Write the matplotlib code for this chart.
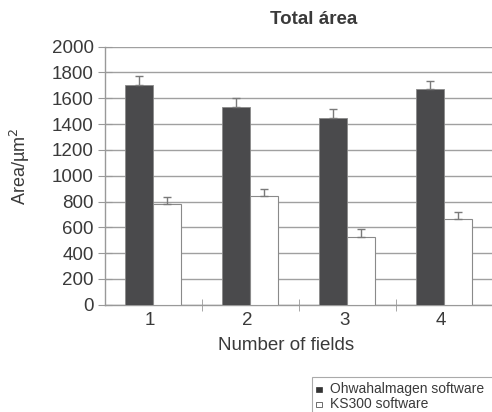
import matplotlib
matplotlib.use("Agg")
import matplotlib.pyplot as plt
import numpy as np
from matplotlib.patches import Rectangle

plt.rcParams['font.family'] = ['Liberation Sans', 'DejaVu Sans']

categories = ["1", "2", "3", "4"]
ohwa_values = [1703, 1535, 1444, 1669]
ohwa_err = [72, 70, 73, 67]
ks_values = [780, 845, 522, 667]
ks_err = [57, 52, 62, 54]
series_names = ["Ohwahalmagen software", "KS300 software"]
yticks = [0, 200, 400, 600, 800, 1000, 1200, 1400, 1600, 1800, 2000]

fig = plt.figure(figsize=(4.92, 4.12), dpi=100)
ax = fig.add_axes([104.7/492, 1-304.7/412, (492.7-104.7)/492, (304.7-46.7)/412])

x = np.arange(len(categories))
w = 0.29
txt = '#3a3a3a'
ax.bar(x - w/2, ohwa_values, w, color='#4a4a4c', edgecolor='#8a8a8a', linewidth=0.6, zorder=3)
ax.bar(x + w/2, ks_values, w, color='white', edgecolor='#8a8a8a', linewidth=0.8, zorder=3)
ax.errorbar(x - w/2, ohwa_values, yerr=[np.zeros(4), ohwa_err], fmt='none',
            ecolor='#7a7a7a', elinewidth=1, capsize=3, capthick=1, zorder=4)
ax.errorbar(x + w/2, ks_values, yerr=[np.zeros(4), ks_err], fmt='none',
            ecolor='#7a7a7a', elinewidth=1, capsize=3, capthick=1, zorder=4)

ax.set_xlim(-0.5, 3.5)
ax.set_ylim(0, 2000)
ax.set_yticks(yticks)
ax.set_yticklabels([str(v) for v in yticks], fontsize=13.5, color=txt)
ax.set_xticks(x - 0.03)
ax.set_xticklabels(categories, fontsize=13.5, color=txt)
ax.set_xticks([0.5, 1.5, 2.5, 3.5], minor=True)
ax.tick_params(axis='x', which='major', length=0, pad=5)
ax.tick_params(axis='x', which='minor', length=8, color='#999999', direction='inout')
ax.tick_params(axis='y', length=10, color='#999999', direction='inout', pad=3)
ax.yaxis.grid(True, color='#a0a0a0', linewidth=1, zorder=0)
ax.set_axisbelow(True)
for s in ['top', 'right']:
    ax.spines[s].set_visible(False)
for s in ['left', 'bottom']:
    ax.spines[s].set_color('#999999')
    ax.spines[s].set_linewidth(1)

fig.text(286/492, 1-345/412, "Number of fields", fontsize=13.5, color=txt,
         ha='center', va='center')
fig.text(20/492, 1-166/412, "Area/µm$^2$", rotation=90, fontsize=13, color=txt,
         ha='center', va='center')
fig.text(314/492, 1-19/412, "Total área", fontsize=13.5, fontweight='bold', color=txt,
         ha='center', va='center')

# legend box
fig.patches.append(Rectangle((312/492, -0.01), 190/492, (412-377)/412 + 0.01,
                             transform=fig.transFigure,
                             facecolor='white', edgecolor='#aaaaaa', linewidth=0.8))
fig.patches.append(Rectangle((316/492, 1-392/412), 5.5/492, 5.5/412, transform=fig.transFigure,
                             facecolor='#333333', edgecolor='#333333', linewidth=0.5))
fig.patches.append(Rectangle((316/492, 1-407/412), 5.5/492, 5.5/412, transform=fig.transFigure,
                             facecolor='white', edgecolor='#555555', linewidth=0.6))
fig.text(330/492, 1-389/412, series_names[0], fontsize=10, color=txt, va='center')
fig.text(330/492, 1-404/412, series_names[1], fontsize=10, color=txt, va='center')

fig.savefig("out.png", dpi=100)
